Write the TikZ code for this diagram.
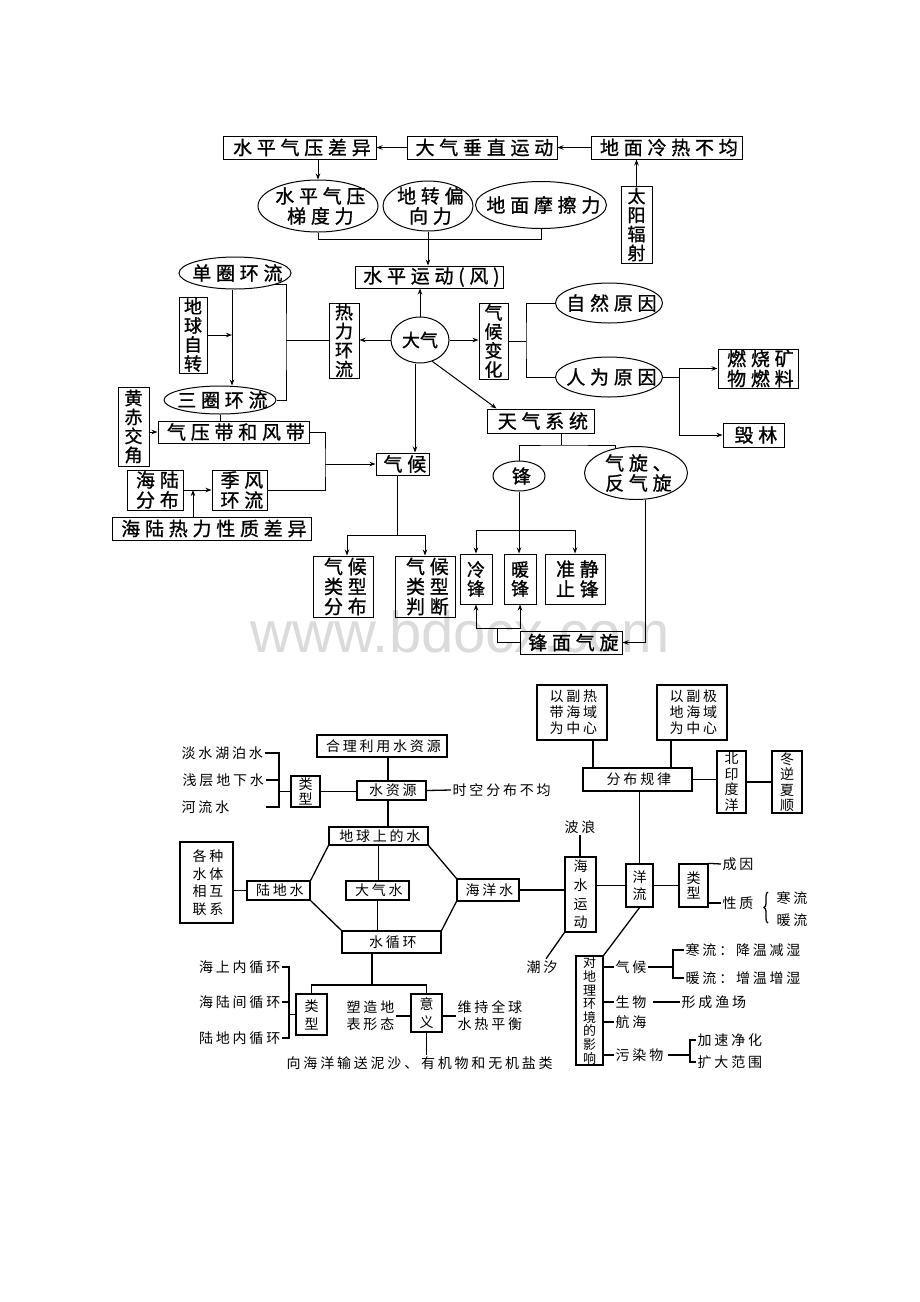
\documentclass[tikz,border=0pt]{standalone}
\usepackage{fontspec}
\setmainfont{Noto Sans CJK SC}
\newfontfamily\fA[LetterSpace=25,FakeBold=1]{Noto Sans CJK SC}
\newfontfamily\fB{Noto Sans CJK SC}
\newfontfamily\fD[FakeBold=1]{Noto Sans CJK SC}
\newfontfamily\fC[LetterSpace=20]{Noto Sans CJK SC}
\newfontfamily\wmf{Liberation Sans}
\usetikzlibrary{shapes.geometric,arrows.meta,calc,decorations.pathreplacing}
\newcommand\B[8][tt]{\node[#2,minimum width={(#5-#3)*1pt},minimum height={(#6-#4)*1pt}] (#7) at ({(#3+#5)/2},{(#4+#6)/2}) {};\node[#1] (#7t) at (#7) {#8};}
\newcommand\E[7][tt]{\node[el,minimum width={#5*1pt},minimum height={#6*1pt}] (#2) at (#3,#4) {};\node[#1] (#2t) at (#2) {#7};}
\begin{document}
\begin{tikzpicture}[x=1pt,y=-1pt,
  bx/.style={draw,line width=1pt,inner sep=0pt,rectangle},
  el/.style={draw,line width=1pt,inner sep=0pt,ellipse},
  tt/.style={inner sep=0pt,font={\fA\fontsize{19}{20}\selectfont},xshift=2.4pt,align=center},
  tv/.style={inner sep=0pt,font={\fD\fontsize{18}{19}\selectfont},align=center},
  ln/.style={line width=1pt},
  ar/.style={line width=1pt,-{Stealth[length=6pt,width=4.5pt]}},
  bb/.style={draw,line width=1.3pt,inner sep=0pt,rectangle},
  bt/.style={inner sep=0pt,font={\fC\fontsize{14}{#1}\selectfont},xshift=1.4pt,align=center},
  bt/.default=16,
  bv/.style={inner sep=0pt,font={\fB\fontsize{14}{#1}\selectfont},align=center},
  bv/.default=15,
  bvs/.style={inner sep=0pt,font={\fB\fontsize{13}{13.6}\selectfont},align=center},
  bl/.style={line width=1.3pt},
  lab/.style={inner sep=1.5pt,font={\fC\fontsize{14}{17}\selectfont}},
]
\fill[white] (0,0) rectangle (920,1302);
\useasboundingbox (0,0) rectangle (920,1302);
% watermark
\node[font={\wmf\fontsize{58}{60}\selectfont},text=black!14,anchor=base,inner sep=0pt] (wm) at (460,652) {www.bdocx.com};

% ===== top part =====
\B{bx}{223}{136}{376}{159}{spcy}{水平气压差异}
\B{bx}{407}{136}{557}{159}{dqcz}{大气垂直运动}
\B{bx}{591}{136}{742}{159}{dmlr}{地面冷热不均}
\B[tv]{bx}{621}{186}{652}{263}{tyfs}{太\\阳\\辐\\射}
\E{tdl}{318}{206}{120}{52}{水平气压\\梯度力}
\E{dzp}{428}{206}{90}{50}{地转偏\\向力}
\E{dmm}{541}{205}{131}{47}{地面摩擦力}
\B{bx}{355}{266}{503}{288}{spyd}{水平运动(风)}
\E[tv]{dq}{420}{340}{58}{46}{大气}
\B[tv]{bx}{329}{303}{359}{378}{rlhl}{热\\力\\环\\流}
\B[tv]{bx}{479}{303}{508}{379}{qhbh}{气\\候\\变\\化}
\E{dqhl}{235}{273}{112}{32}{单圈环流}
\B[tv]{bx}{179}{297}{207}{373}{dqzz}{地\\球\\自\\转}
\E{sqhl}{220}{400}{112}{28}{三圈环流}
\B[tv]{bx}{118}{387}{149}{466}{hcj}{黄\\赤\\交\\角}
\B{bx}{158}{421}{309}{443}{qyd}{气压带和风带}
\B{bx}{127}{470}{183}{510}{hlfb}{海陆\\分布}
\B{bx}{212}{470}{267}{510}{jfhl}{季风\\环流}
\B{bx}{112}{517}{311}{540}{hlrl}{海陆热力性质差异}
\B{bx}{376}{453}{429}{475}{qh}{气候}
\B{bx}{313}{556}{373}{617}{lxfb}{气候\\类型\\分布}
\B{bx}{395}{556}{455}{617}{lxpd}{气候\\类型\\判断}
\E{zryy}{609}{303}{107}{40}{自然原因}
\E{rwyy}{609}{377}{107}{40}{人为原因}
\B{bx}{718}{349}{798}{388}{rskw}{燃烧矿\\物燃料}
\B{bx}{723}{423}{784}{447}{hl}{毁林}
\B{bx}{487}{409}{594}{433}{tqxt}{天气系统}
\E{feng}{519}{476}{52}{30}{锋}
\E{qx}{636}{473}{103}{53}{气旋、\\反气旋}
\B[tv]{bx}{460}{554}{492}{604}{lf}{冷\\锋}
\B[tv]{bx}{504}{554}{536}{604}{nf}{暖\\锋}
\B{bx}{545}{554}{605}{604}{zjz}{准静\\止锋}
\B{bx}{520}{631}{622}{654}{fmqx}{锋面气旋}

\draw[ar] (dqcz.west) -- (spcy.east);
\draw[ar] (dmlr.west) -- (dqcz.east);
\draw[ar] (tyfs.north) -- (tyfs.north |- dmlr.south);
\draw[ar] (spcy.south -| tdl.north) -- (tdl.north);
\draw[ln] (tdl.south) -- ++(0,7) -| (dmm.south);
\draw[ar] (dzp.south) -- (dzp.south |- spyd.north);
\draw[ar] (dq.north) -- (dq.north |- spyd.south);
\draw[ar] (dq.west) -- (dq.west -| rlhl.east);
\draw[ar] (dq.east) -- (dq.east -| qhbh.west);
\draw[ar] (dq.-60) -- ([xshift=10pt]tqxt.north west);
\draw[ar] ([xshift=-5pt]dq.south) -- ([xshift=-5pt]dq.south |- qh.north);

\coordinate (vL) at (232,340);
\draw[ar] (dqhl.south -| vL) -- (sqhl.north -| vL);
\draw[ar] (dqzz.east) -- (dqzz.east -| vL);
\coordinate (br1) at (286,341);
\draw[ln] (dqhl.south east) -| (br1) |- (sqhl.east);
\draw[ln] (rlhl.west) -- (rlhl.west -| br1);
\draw[ln] (sqhl.south) -- (sqhl.south |- qyd.north);
\draw[ar] (hcj.east |- qyd.west) -- (qyd.west);
\coordinate (br2) at (325,464);
\draw[ln] (qyd.east) -| (br2) |- (jfhl.east);
\draw[ar] (br2) -- (br2 -| qh.west);
\draw[ar] (hlfb.east) -- (jfhl.west);
\coordinate (hj) at (193,490);
\draw[ar] (hj |- hlrl.north) -- (hj);
\coordinate (qs) at (397,535);
\draw[ln] (qs |- qh.south) -- (qs);
\draw[ar] (qs) -| ([xshift=4pt]lxfb.north);
\draw[ar] (qs) -| (lxpd.north);

\coordinate (br3) at (526,341);
\draw[ln] (qhbh.east) -- (qhbh.east -| br3);
\draw[ln] (zryy.west) -| (br3) |- (rwyy.west);
\coordinate (br4) at (679,377);
\draw[ln] (rwyy.east) -- (br4);
\draw[ar] (br4) |- (rskw.west);
\draw[ar] (br4) |- (hl.west);

\coordinate (br5) at (561,445);
\draw[ln] (br5 |- tqxt.south) -- (br5);
\draw[ln] (feng.north) |- (br5) -| (qx.130);
\coordinate (fs) at (519,530);
\draw[ln] (feng.south) -- (fs);
\draw[ar] (fs) -| (lf.north);
\draw[ar] (fs) -- (fs |- nf.north);
\draw[ar] (fs) -| (zjz.north);
\draw[ar] ([xshift=9pt]qx.south) |- (fmqx.east);
\coordinate (fl) at (497,628);
\draw[ln] (fmqx.west) -| (fl);
\draw[ar] (fl) -| (lf.south);
\draw[ar] (fl) -| (nf.south);

% ===== bottom part =====
\B[bt]{bb}{317}{735}{447}{757}{hlly}{合理利用水资源}
\B[bt]{bb}{357}{781}{426}{800}{szy}{水资源}
\B[bv]{bb}{291}{776}{320}{807}{lxa}{类\\型}
\B[bt]{bb}{329}{827}{428}{845}{dqsw}{地球上的水}
\B[bt=17.5]{bb}{180}{842}{233}{923}{gzst}{各种\\水体\\相互\\联系}
\B[bt]{bb}{247}{881}{310}{900}{ldw}{陆地水}
\B[bt]{bb}{346}{881}{409}{900}{dqw}{大气水}
\B[bt]{bb}{457}{879}{519}{901}{hyw}{海洋水}
\B[bt]{bb}{342}{931}{441}{953}{sxh}{水循环}
\B[bv=18.7]{bb}{565}{857}{596}{932}{hsyd}{海\\水\\运\\动}
\B[bv=17]{bb}{626}{864}{653}{907}{yl}{洋\\流}
\B[bt]{bb}{583}{768}{692}{791}{fbgl}{分布规律}
\B[bt=16]{bb}{537}{685}{607}{740}{ysr}{以副热\\带海域\\为中心}
\B[bt=16]{bb}{657}{685}{727}{740}{ysj}{以副极\\地海域\\为中心}
\B[bv=15.5]{bb}{717}{751}{746}{813}{byd}{北\\印\\度\\洋}
\B[bv=15.5]{bb}{772}{751}{802}{813}{dnxs}{冬\\逆\\夏\\顺}
\B[bv=15]{bb}{679}{864}{708}{907}{lxb}{类\\型}
\B[bvs]{bb}{576}{956}{603}{1065}{dly}{对\\地\\理\\环\\境\\的\\影\\响}
\B[bv=18]{bb}{296}{994}{327}{1035}{lxc}{类\\型}
\B[bv=18.5]{bb}{411}{994}{442}{1032}{yy}{意\\义}

\node[lab,anchor=west] (tdshb) at (180,753) {淡水湖泊水};
\node[lab,anchor=west] (tqcdx) at (181,780) {浅层地下水};
\node[lab,anchor=west] (thls) at (180,807) {河流水};
\coordinate (bk1) at (279,790);
\draw[bl] (tdshb.east) -| (bk1 |- thls) -- ++(-13,0);
\draw[bl] (tqcdx.east) -- (tqcdx.east -| bk1);
\draw[bl] (lxa.west) -- (lxa.west -| bk1);
\draw[bl] (lxa.east) -- (lxa.east -| szy.west);
\coordinate (vx) at (388,0);
\draw[bl] (hlly.south -| vx) -- (szy.north -| vx);
\draw[bl] (szy.south -| vx) -- (dqsw.north -| vx);
\node[lab,anchor=west] (tskfb) at (451,790) {时空分布不均};
\draw[bl] (szy.east) -- (tskfb.west);

\draw[bl] (dqsw.south west) -- (ldw.north east);
\draw[bl] (ldw.south east) -- (sxh.north west);
\draw[bl] (dqsw.south east) -- (hyw.north west);
\draw[bl] (hyw.south west) -- (sxh.north east);
\draw[bl] (dqsw.south) -- (dqsw.south |- dqw.north);
\draw[bl] (dqw.south) -- (dqw.south |- sxh.north);
\draw[bl] (gzst.east |- ldw.west) -- (ldw.west);
\draw[bl] (hyw.east) -- (hyw.east -| hsyd.west);

\node[lab] (tbl) at (580,827) {波浪};
\node[lab] (tcx) at (542,967) {潮汐};
\draw[bl] (tbl.south) -- (tbl.south |- hsyd.north);
\draw[bl] (hsyd.south west) -- ([xshift=4pt]tcx.north);
\draw[bl] (yl.west) -- (yl.west -| hsyd.east);
\draw[bl] (yl.north) -- (yl.north |- fbgl.south);
\draw[bl] ([xshift=21pt]ysr.south) -- ([xshift=21pt]ysr.south |- fbgl.north);
\draw[bl] ([xshift=-21pt]ysj.south) -- ([xshift=-21pt]ysj.south |- fbgl.north);
\draw[bl] (fbgl.east) -- (fbgl.east -| byd.west);
\draw[bl] (byd.east) -- (dnxs.west);
\draw[bl] (yl.east) -- (yl.east -| lxb.west);
\node[lab,anchor=west] (tcy) at (721,864) {成因};
\draw[bl] (lxb.north east) -- (tcy.west);
\node[lab,anchor=west] (txz) at (721,903) {性质};
\draw[bl] (lxb.east |- txz.west) -- (txz.west);
\coordinate (brB) at (768,923);
\coordinate (brT) at (768,892);
\draw[bl,decorate,decoration={brace,amplitude=4pt}] (brB) -- (brT);
\node[lab,anchor=west] (thl0) at (775,898) {寒流};
\node[lab,anchor=west] (tnl0) at (775,920) {暖流};
\draw[bl] (yl.south) -- (dly.north east);

\node[lab,anchor=west] (tqh2) at (614,967) {气候};
\node[lab,anchor=west] (tsw) at (614,1002) {生物};
\node[lab,anchor=west] (thh) at (614,1022) {航海};
\node[lab,anchor=west] (twrw) at (614,1055) {污染物};
\draw[bl] (tqh2.west -| dly.east) -- (tqh2.west);
\draw[bl] (tsw.west -| dly.east) -- (tsw.west);
\draw[bl] (thh.west -| dly.east) -- (thh.west);
\draw[bl] (twrw.west -| dly.east) -- (twrw.west);
\coordinate (bq) at (673,964);
\node[lab,anchor=west] (thl1) at (684,950) {寒流：降温减湿};
\node[lab,anchor=west] (tnl1) at (684,978) {暖流：增温增湿};
\draw[bl] (tqh2.east) -- (tqh2.east -| bq);
\draw[bl] (thl1.west) -| (bq |- tnl1.west) -- (tnl1.west);
\node[lab,anchor=west] (txcyc) at (680,1002) {形成渔场};
\draw[bl] ([xshift=5pt]tsw.east) -- (txcyc.west);
\node[lab,anchor=west] (tjsjh) at (696,1040) {加速净化};
\node[lab,anchor=west] (tkdfw) at (696,1062) {扩大范围};
\coordinate (bw) at (690,1055);
\draw[bl] ([xshift=3pt]twrw.east) -- (twrw.east -| bw);
\draw[bl] (tjsjh.west) -| (bw |- tkdfw.west) -- (tkdfw.west);

\node[lab,anchor=east] (thsn) at (282,967) {海上内循环};
\node[lab,anchor=east] (thlj) at (282,1002) {海陆间循环};
\node[lab,anchor=east] (tldn) at (282,1038) {陆地内循环};
\coordinate (bl1) at (289,1013);
\draw[bl] (thsn.east) -| (bl1 |- tldn.east) -- (tldn.east);
\draw[bl] (thlj.east) -- (thlj.east -| bl1);
\draw[bl] (lxc.west) -- (lxc.west -| bl1);
\coordinate (ws) at (372,985);
\draw[bl] (ws |- sxh.south) -- (ws);
\draw[bl] (lxc.north) |- (ws) -| (yy.north);
\node[lab,anchor=east,align=center] (tszdb) at (396,1016) {塑造地\\表形态};
\draw[bl] (tszdb.east) -- (tszdb.east -| yy.west);
\node[lab,anchor=west,align=left] (twcqq) at (456,1016) {维持全球\\水热平衡};
\draw[bl] (yy.east |- twcqq.west) -- (twcqq.west);
\node[lab,anchor=west] (thhy) at (285,1063) {向海洋输送泥沙、有机物和无机盐类};
\draw[bl] (yy.south) -- (yy.south |- thhy.north);
\end{tikzpicture}
\end{document}
